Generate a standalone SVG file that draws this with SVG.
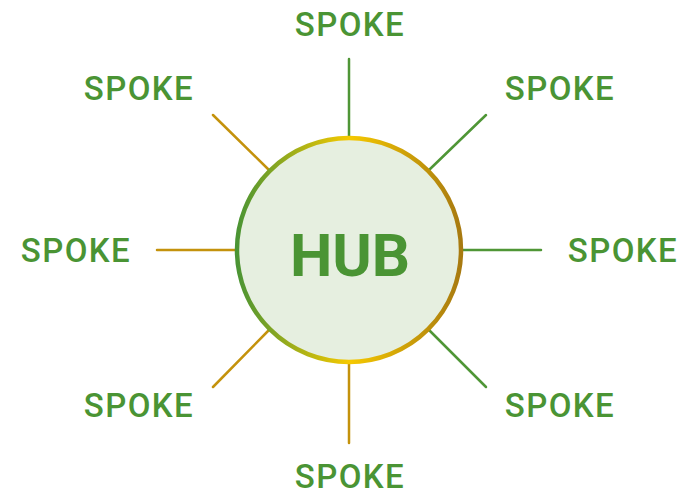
<svg xmlns="http://www.w3.org/2000/svg" width="694" height="495" viewBox="0 0 694 495">
<defs>
<linearGradient id="ring" x1="0" y1="0" x2="1" y2="0">
<stop offset="0" stop-color="#4a9434"/>
<stop offset="0.5" stop-color="#f6c900"/>
<stop offset="1" stop-color="#a87a10"/>
</linearGradient>
<style>
.lbl{font-family:Roboto,"Liberation Sans",Arial,sans-serif;font-size:33px;font-weight:500;letter-spacing:1.4px;fill:#4a9434;text-anchor:middle}
.g{stroke:#4f9636;stroke-width:2.5;stroke-linecap:round}
.b{stroke:#c4920c;stroke-width:2.5;stroke-linecap:round}
</style>
</defs>
<g id="connectors">
<line class="g" x1="349" y1="59" x2="349" y2="137"/>
<line class="g" x1="486" y1="115" x2="429" y2="170"/>
<line class="g" x1="462" y1="250" x2="541" y2="250"/>
<line class="g" x1="429" y1="330" x2="486" y2="387"/>
<line class="b" x1="349" y1="363" x2="349" y2="443"/>
<line class="b" x1="213" y1="387" x2="269" y2="330"/>
<line class="b" x1="157" y1="250" x2="236" y2="250"/>
<line class="b" x1="213" y1="115" x2="269" y2="170"/>
</g>
<g id="hub">
<circle cx="349" cy="250" r="112" fill="#e6efe0" stroke="url(#ring)" stroke-width="4.5"/>
<text x="350" y="276" style="font-family:Roboto,'Liberation Sans',Arial,sans-serif;font-size:60px;font-weight:bold;fill:#4a9434;text-anchor:middle">HUB</text>
</g>
<g id="spoke-top"><text class="lbl" x="350" y="36">SPOKE</text></g>
<g id="spoke-upper-right"><text class="lbl" x="560" y="100">SPOKE</text></g>
<g id="spoke-right"><text class="lbl" x="623" y="262">SPOKE</text></g>
<g id="spoke-lower-right"><text class="lbl" x="560" y="417">SPOKE</text></g>
<g id="spoke-bottom"><text class="lbl" x="350" y="488">SPOKE</text></g>
<g id="spoke-lower-left"><text class="lbl" x="139" y="417">SPOKE</text></g>
<g id="spoke-left"><text class="lbl" x="76" y="262">SPOKE</text></g>
<g id="spoke-upper-left"><text class="lbl" x="139" y="100">SPOKE</text></g>
</svg>
